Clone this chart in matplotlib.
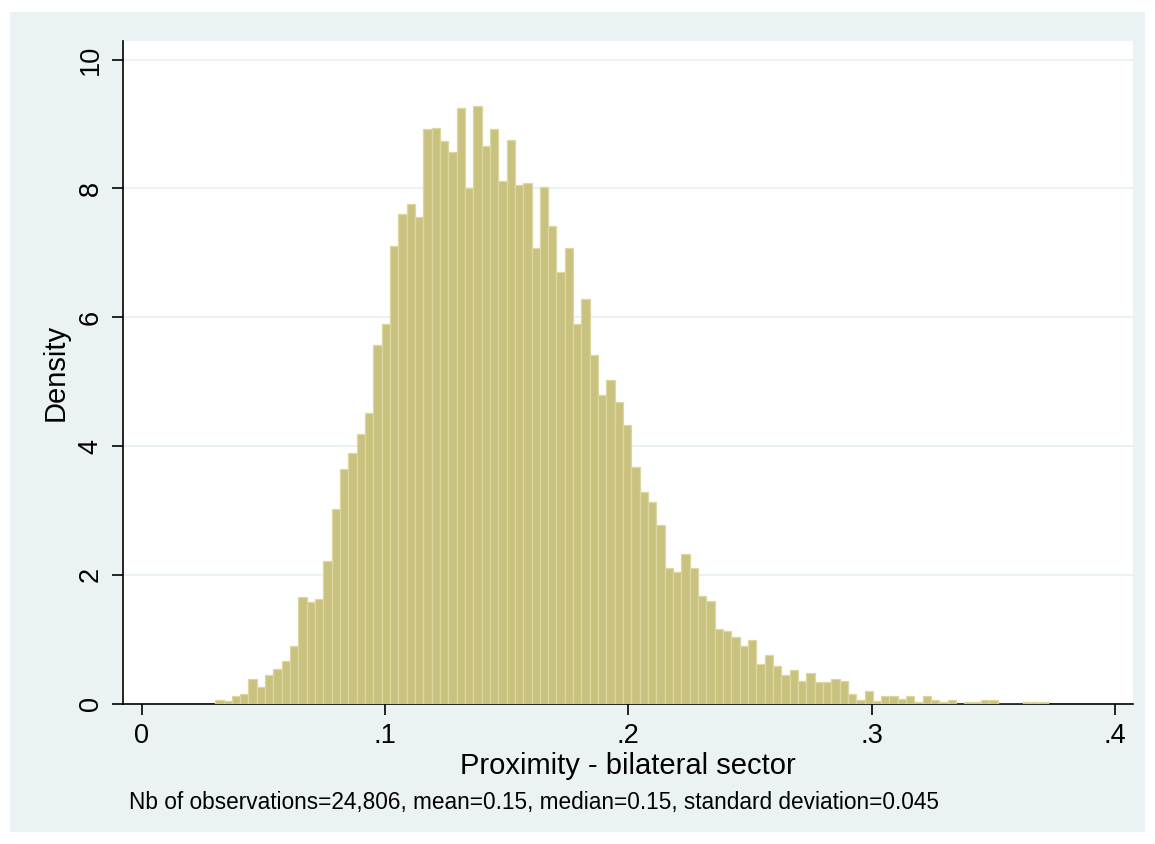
import matplotlib
matplotlib.use("Agg")
import matplotlib.pyplot as plt
import numpy as np
from matplotlib.patches import Rectangle

# histogram of proximity, 100 bins
bin_start = 0.0302
bin_width = 0.003421
density = [
    0.05, 0.035, 0.12, 0.145, 0.38, 0.26, 0.45, 0.54, 0.66, 0.90,
    1.66, 1.58, 1.63, 2.22, 3.03, 3.64, 3.90, 4.18, 4.51, 5.57,
    5.90, 7.11, 7.60, 7.76, 7.55, 8.92, 8.94, 8.73, 8.57, 9.25,
    8.00, 9.28, 8.66, 8.92, 8.12, 8.76, 8.05, 8.09, 7.08, 8.02,
    7.41, 6.70, 7.08, 5.90, 6.28, 5.42, 4.79, 5.03, 4.68, 4.32,
    3.68, 3.28, 3.13, 2.78, 2.10, 2.05, 2.32, 2.10, 1.67, 1.59,
    1.16, 1.13, 1.04, 0.90, 0.99, 0.62, 0.76, 0.58, 0.45, 0.53,
    0.35, 0.48, 0.33, 0.33, 0.38, 0.36, 0.15, 0.05, 0.19, 0.04,
    0.12, 0.12, 0.07, 0.12, 0.03, 0.12, 0.05, 0.03, 0.05, 0.0,
    0.03, 0.03, 0.05, 0.05, 0.0, 0.0, 0.0, 0.03, 0.03, 0.03,
]
x_ticks = [0, 0.1, 0.2, 0.3, 0.4]
x_ticklabels = ["0", ".1", ".2", ".3", ".4"]
y_ticks = [0, 2, 4, 6, 8, 10]
note = "Nb of observations=24,806, mean=0.15, median=0.15, standard deviation=0.045"

plt.rcParams["font.family"] = ["Liberation Sans", "DejaVu Sans"]

bg = "#EAF2F3"
fig = plt.figure(figsize=(11.55, 8.44), dpi=100)
fig.patch.set_facecolor("white")
fig.patches.append(Rectangle((10 / 1155, 1 - 832 / 844), 1135 / 1155, 820 / 844,
                             transform=fig.transFigure, facecolor=bg,
                             edgecolor="none", zorder=-10))

ax = fig.add_axes([123.3 / 1155, 1 - 703.7 / 844, 1010 / 1155, 662.7 / 844])
ax.set_facecolor("white")

left_edges = bin_start + bin_width * np.arange(len(density))
ax.bar(left_edges, density, width=bin_width, align="edge",
       color="#C9C27E", edgecolor="#DCD6A0", linewidth=0.9, zorder=3)

ax.set_xlim(-0.00756, 0.4075)
ax.set_ylim(0, 10.29)

ax.set_yticks(y_ticks)
ax.set_yticklabels([str(v) for v in y_ticks], rotation=90, va="center")
ax.set_xticks(x_ticks)
ax.set_xticklabels(x_ticklabels)
ax.tick_params(axis="both", direction="out", length=8, width=1.2,
               labelsize=19.5, colors="black", pad=6)
ax.yaxis.grid(True, color=bg, linewidth=1.5, zorder=0)
ax.set_axisbelow(True)

for side in ["top", "right"]:
    ax.spines[side].set_visible(False)
for side in ["left", "bottom"]:
    ax.spines[side].set_linewidth(1.2)

ax.set_xlabel("Proximity - bilateral sector", fontsize=21, labelpad=2)
ax.set_ylabel("Density", fontsize=21, labelpad=6)

fig.text(129 / 1155, 1 - 802 / 844, note, fontsize=16.3, va="center", ha="left")

fig.savefig("out.png", dpi=100)
